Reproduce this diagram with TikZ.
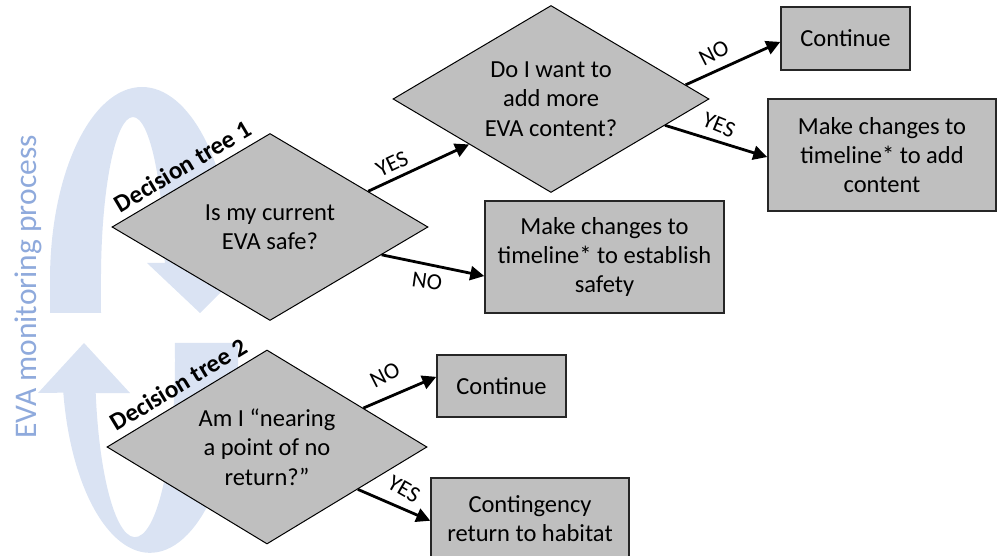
\documentclass[tikz,border=0pt]{standalone}
\usepackage{fontspec}
\setmainfont{Carlito}
\usetikzlibrary{shapes.geometric,arrows.meta}
\definecolor{ribbon}{HTML}{DAE3F3}
\definecolor{ribbondark}{HTML}{D2DCEE}
\definecolor{ribbontxt}{HTML}{8FAADC}
\definecolor{boxgray}{HTML}{BFBFBF}
\begin{document}
\begin{tikzpicture}[x=1pt,y=-1pt,
  dia/.style={shape=diamond, draw=black, line width=1pt, fill=boxgray, inner sep=0pt, aspect=1.7, align=center, font=\fontsize{24.5}{29.5}\selectfont},
  box/.style={draw=black!85, line width=1.5pt, fill=boxgray, inner sep=0pt, align=center, font=\fontsize{24.5}{29}\selectfont},
  conn/.style={line width=2.8pt, -{Triangle[length=14pt,width=14pt]}},
  lbl/.style={font=\fontsize{23}{27}\selectfont, inner sep=0pt},
  tree/.style={font=\bfseries\fontsize{25}{30}\selectfont, anchor=south, inner sep=7pt}
]
\useasboundingbox (0,0) rectangle (997,556);
% background ribbons
\fill[ribbon] (50,313) -- (50,280) arc[start angle=180, end angle=355, x radius=92, y radius=193]
  -- (250,263) -- (200,313) -- (147,263) -- (164.8,263)
  arc[start angle=354, end angle=180, x radius=32, y radius=163] -- (101,313) -- cycle;
\fill[ribbon] (174.8,343) -- (237.7,343) arc[start angle=-5, end angle=170.2, x radius=88, y radius=193]
  -- (38,393) -- (84,343) -- (130,393) -- (95.7,393)
  arc[start angle=169.3, end angle=-5.5, x radius=40, y radius=177] -- cycle;
\node[rotate=90, anchor=base, text=ribbontxt, font=\fontsize{31.5}{36}\selectfont, inner sep=0pt] (evalbl) at (36,287) {EVA monitoring process};
% diamonds
\node[dia, minimum width=316pt, minimum height=187pt] (d1) at (270,227) {Is my current\\EVA safe?};
\node[dia, minimum width=316pt, minimum height=187pt] (d2) at (551,99) {Do I want to\\add more\\EVA content?};
\node[dia, minimum width=320pt, minimum height=194pt] (d3) at (267,447) {Am I “nearing\\a point of no\\return?”};
% boxes
\node[box, minimum width=129pt, minimum height=63pt] (c1) at (845.5,38.5) {Continue};
\node[box, minimum width=228pt, minimum height=112pt] (addc) at (882,155) {Make changes to\\timeline* to add\\content};
\node[box, minimum width=239pt, minimum height=112pt] (safe) at (604.5,257) {Make changes to\\timeline* to establish\\safety};
\node[box, minimum width=129pt, minimum height=62pt] (c2) at (501.5,386) {Continue};
\node[box, minimum width=198pt, minimum height=82pt] (cont) at (530,519) {Contingency\\return to habitat};
% connectors
\draw[conn] (d1.20) -- (d2.209);
\draw[conn] (d1.346) -- (safe.189);
\draw[conn] (d2.6) -- (c1.183);
\draw[conn] (d2.347) -- (addc.181);
\draw[conn] (d3.22) -- (c2.172);
\draw[conn] (d3.335) -- (cont.181);
% labels
\node[lbl, rotate=25] (l1) at (392,164) {YES};
\node[lbl, rotate=-8] (l2) at (427,281) {NO};
\node[lbl, rotate=27] (l3) at (714,53) {NO};
\node[lbl, rotate=-22] (l4) at (719,125) {YES};
\node[lbl, rotate=27] (l5) at (385,375) {NO};
\node[lbl, rotate=-30] (l6) at (404,489) {YES};
\node[tree, rotate=30.75] (t1) at (d1.north west) {Decision tree 1};
\node[tree, rotate=31.2] (t2) at (d3.north west) {Decision tree 2};
\end{tikzpicture}
\end{document}
